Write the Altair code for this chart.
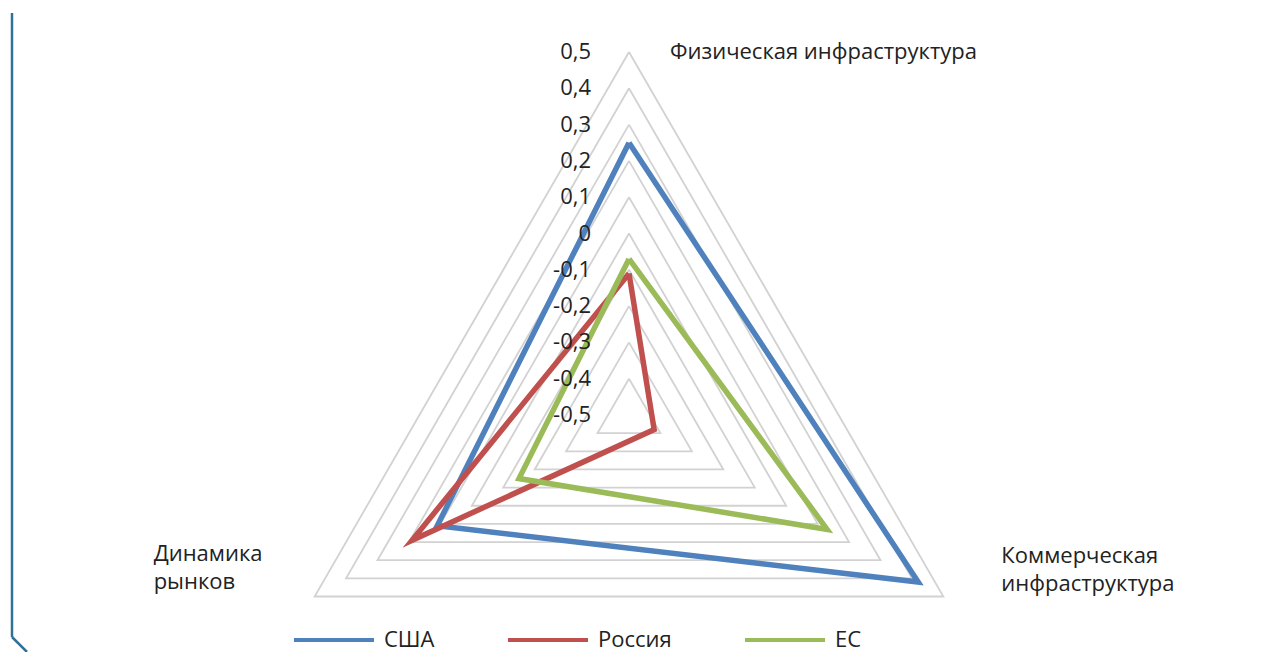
import altair as alt
import pandas as pd

# ---- data ----
categories = ["Физическая инфраструктура", "Коммерческая инфраструктура", "Динамика рынков"]
category_labels = ["Физическая инфраструктура", "Коммерческая\nинфраструктура", "Динамика\nрынков"]
series = ["США", "Россия", "ЕС"]
usa = [0.25, 0.42, 0.11]
russia = [-0.11, -0.42, 0.19]
eu = [-0.07, 0.13, -0.15]
ring_levels = [-0.4, -0.3, -0.2, -0.1, 0.0, 0.1, 0.2, 0.3, 0.4, 0.5]
tick_levels = [-0.5, -0.4, -0.3, -0.2, -0.1, 0.0, 0.1, 0.2, 0.3, 0.4, 0.5]
tick_labels = ["-0,5", "-0,4", "-0,3", "-0,2", "-0,1", "0", "0,1", "0,2", "0,3", "0,4", "0,5"]
colors = ["#4f81bd", "#c0504d", "#9bbb59"]
axis_min = -0.5

FONT = "Open Sans"
FS = 22
PX = 363.0  # pixels per unit of radius
W, H = 1267, 644
CX, CY = 621, 407

# ---- tables ----
rows = []
for s, vals in zip(series, [usa, russia, eu]):
    for k in range(4):
        rows.append({"series": s, "k": k, "value": vals[k % 3]})
df_series = pd.DataFrame(rows)

ring_rows = []
for lv in ring_levels:
    for k in range(4):
        ring_rows.append({"level": lv, "k": k, "value": lv})
df_rings = pd.DataFrame(ring_rows)

df_ticks = pd.DataFrame({"value": tick_levels, "label": tick_labels, "k": 0})
df_cats = pd.DataFrame({"cat": categories, "label": category_labels, "k": [0, 1, 2], "value": 0.5})

calc = dict(
    r=f"datum.value - ({axis_min})",
    ang=f"(datum.k % 3) * 2 * PI / 3",
)
xy = dict(
    px="datum.r * sin(datum.ang)",
    py="datum.r * cos(datum.ang)",
)

xs = alt.Scale(domain=[-CX / PX, (W - CX) / PX], nice=False, zero=False)
ys = alt.Scale(domain=[-(H - CY) / PX, CY / PX], nice=False, zero=False)
X = alt.X("px:Q", scale=xs, axis=None)
Y = alt.Y("py:Q", scale=ys, axis=None)

rings = (
    alt.Chart(df_rings)
    .transform_calculate(**calc)
    .transform_calculate(**xy)
    .mark_line(color="#d2d2d2", strokeWidth=1.8, strokeJoin="miter")
    .encode(x=X, y=Y, detail="level:N", order="k:Q")
)

lines = (
    alt.Chart(df_series)
    .transform_calculate(**calc)
    .transform_calculate(**xy)
    .mark_line(strokeWidth=5.5, strokeJoin="miter", strokeMiterLimit=20)
    .encode(
        x=X,
        y=Y,
        order="k:Q",
        color=alt.Color(
            "series:N",
            scale=alt.Scale(domain=series, range=colors),
            legend=alt.Legend(
                title=None,
                orient="none",
                legendX=284,
                legendY=590,
                direction="horizontal",
                symbolType="stroke",
                symbolSize=6400,
                symbolStrokeWidth=4,
                labelFont=FONT,
                labelFontSize=FS,
                labelColor="#222222",
                labelOffset=8,
                columnPadding=65,
                labelLimit=200,
            ),
        ),
    )
)

ticks = (
    alt.Chart(df_ticks)
    .transform_calculate(**calc)
    .transform_calculate(**xy)
    .mark_text(align="right", baseline="middle", dx=-38, font=FONT, fontSize=FS, color="#222222")
    .encode(x=X, y=Y, text="label:N")
)

def cat_layer(k, dx, dy, align):
    return (
        alt.Chart(df_cats)
        .transform_filter(f"datum.k == {k}")
        .transform_calculate(**calc)
        .transform_calculate(**xy)
        .mark_text(align=align, baseline="middle", dx=dx, dy=dy, font=FONT, fontSize=FS,
                   color="#222222", lineBreak="\n", lineHeight=28)
        .encode(x=X, y=Y, text="label:N")
    )

cats = cat_layer(0, 41, 0, "left") + cat_layer(1, 58, -41, "left") + cat_layer(2, -161, -43, "left")

deco = alt.Chart(pd.DataFrame({"a": [0]})).mark_rule(color="#2f7299", strokeWidth=2.5).encode(
    x=alt.value(4), y=alt.value(5), y2=alt.value(629)
)
deco2 = alt.Chart(pd.DataFrame({"a": [0]})).mark_rule(color="#2f7299", strokeWidth=2.5).encode(
    x=alt.value(4), x2=alt.value(19), y=alt.value(629), y2=alt.value(644)
)

chart = (
    alt.layer(rings, lines, ticks, cats, deco, deco2)
    .properties(width=W, height=H, autosize=alt.AutoSizeParams(type="none"), padding=0)
    .configure_view(stroke=None)
)

chart.save("out.html", embed_options={"renderer": "svg", "actions": False})
